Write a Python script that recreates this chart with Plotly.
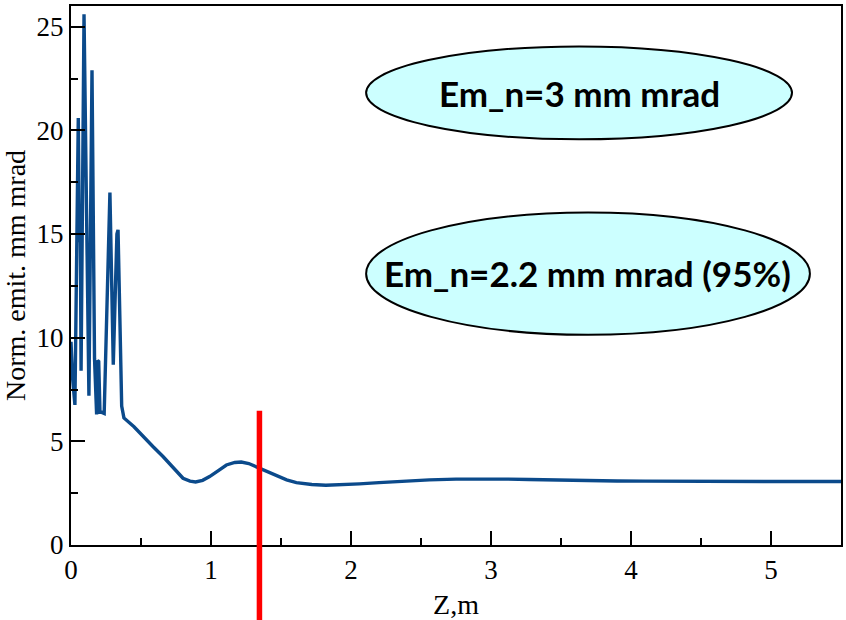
import plotly.graph_objects as go

# Data
z_m = [0.0, 0.012, 0.028, 0.052, 0.058, 0.062, 0.066, 0.072, 0.093, 0.128, 0.15,
       0.162, 0.168, 0.183, 0.19, 0.198, 0.207, 0.22, 0.237, 0.278, 0.302, 0.328,
       0.336, 0.362, 0.378, 0.45, 0.515, 0.585, 0.657, 0.73, 0.80, 0.85, 0.89,
       0.94, 0.99, 1.05, 1.11, 1.17, 1.216, 1.27, 1.32, 1.39, 1.465, 1.54, 1.61,
       1.72, 1.82, 1.94, 2.06, 2.2, 2.35, 2.56, 2.75, 2.91, 3.1, 3.27, 3.45, 3.63,
       3.9, 4.1, 4.3, 4.52, 4.8, 5.1, 5.5]
emit = [9.8, 8.0, 6.76, 20.6, 16.0, 14.6, 15.7, 8.4, 25.6, 7.2, 22.9,
        9.1, 9.0, 6.3, 8.9, 8.85, 6.4, 6.4, 6.35, 17.0, 8.7, 15.0,
        15.2, 6.7, 6.13, 5.7, 5.23, 4.75, 4.27, 3.75, 3.22, 3.08, 3.04,
        3.12, 3.30, 3.58, 3.86, 3.98, 4.0, 3.93, 3.78, 3.55, 3.33, 3.14, 3.01,
        2.92, 2.88, 2.90, 2.95, 3.01, 3.07, 3.14, 3.18, 3.19, 3.18, 3.16, 3.13, 3.11,
        3.09, 3.08, 3.07, 3.06, 3.06, 3.06, 3.06]

x_ticks = [0, 1, 2, 3, 4, 5]
y_ticks = [0, 5, 10, 15, 20, 25]
marker_z = 1.346
label_top = "Em_n=3 mm mrad"
label_bottom = "Em_n=2.2 mm mrad (95%)"

serif = "Liberation Serif"

fig = go.Figure()
fig.add_trace(go.Scatter(x=z_m, y=emit, mode="lines",
                         line=dict(color="#0b4a8b", width=3.4),
                         showlegend=False, hoverinfo="skip"))

axis_common = dict(showgrid=False, zeroline=False, showline=True, linecolor="black",
                   linewidth=2, mirror=True, ticks="inside", tickcolor="black",
                   tickwidth=2, ticklen=14,
                   tickfont=dict(family=serif, size=27, color="black"))

fig.update_xaxes(range=[0, 5.5], tickvals=x_ticks, ticktext=[str(v) for v in x_ticks],
                 minor=dict(dtick=0.5, ticks="inside", ticklen=7, tickwidth=2,
                            tickcolor="black"),
                 title=dict(text="Z,m", font=dict(family=serif, size=28, color="black"),
                            standoff=10),
                 **axis_common)
fig.update_yaxes(range=[0, 26], tickvals=y_ticks, ticktext=[str(v) for v in y_ticks],
                 minor=dict(dtick=2.5, ticks="inside", ticklen=7, tickwidth=2,
                            tickcolor="black"),
                 title=dict(text="Norm. emit. mm mrad",
                            font=dict(family=serif, size=28, color="black"),
                            standoff=6),
                 **axis_common)

# Ellipses with labels
fig.add_shape(type="circle", xref="x", yref="y", x0=2.108, x1=5.15, y0=19.57, y1=24.05,
              line=dict(color="black", width=2), fillcolor="#ccffff", layer="above")
fig.add_shape(type="circle", xref="x", yref="y", x0=2.108, x1=5.278, y0=10.14, y1=16.04,
              line=dict(color="black", width=2), fillcolor="#ccffff", layer="above")
fig.add_annotation(x=3.63, y=21.8, xref="x", yref="y", text="<b>" + label_top + "</b>",
                   showarrow=False, font=dict(family="Lato", size=35, color="black"))
fig.add_annotation(x=3.69, y=13.1, xref="x", yref="y", text="<b>" + label_bottom + "</b>",
                   showarrow=False, font=dict(family="Lato", size=35, color="black"))

# Red vertical marker extending below the axis
fig.add_shape(type="line", xref="x", yref="paper", x0=marker_z, x1=marker_z,
              y0=-0.145, y1=0.249, line=dict(color="#ff0000", width=5.5), layer="above")

fig.update_layout(width=846, height=620, margin=dict(l=71, r=3, t=6, b=75),
                  paper_bgcolor="white", plot_bgcolor="white")

fig.write_html("out.html", config={"displayModeBar": False},
               post_script="document.body.style.margin='0px';document.body.style.overflow='hidden';")
